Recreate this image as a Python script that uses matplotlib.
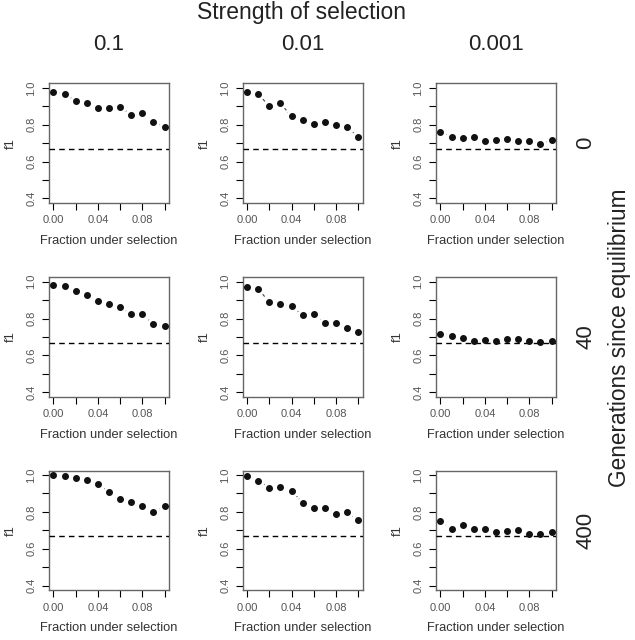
import numpy as np
import matplotlib
matplotlib.use('Agg')
import matplotlib.pyplot as plt

plt.rcParams['font.family'] = ['Liberation Sans', 'DejaVu Sans']

# Datos
frac = [0.00, 0.01, 0.02, 0.03, 0.04, 0.05, 0.06, 0.07, 0.08, 0.09, 0.10]
strengths = ['0.1', '0.01', '0.001']
generations = ['0', '40', '400']
f_equil = 0.67

# filas = generaciones (0, 40, 400); columnas = seleccion (0.1, 0.01, 0.001)
f1_g0_s1 = [0.980, 0.967, 0.929, 0.920, 0.893, 0.893, 0.895, 0.855, 0.864, 0.817, 0.787]
f1_g0_s2 = [0.978, 0.964, 0.902, 0.915, 0.845, 0.828, 0.803, 0.814, 0.799, 0.787, 0.732]
f1_g0_s3 = [0.761, 0.734, 0.727, 0.732, 0.714, 0.718, 0.720, 0.709, 0.711, 0.696, 0.716]
f1_g40_s1 = [0.982, 0.975, 0.948, 0.926, 0.895, 0.881, 0.863, 0.825, 0.825, 0.769, 0.760]
f1_g40_s2 = [0.971, 0.960, 0.890, 0.879, 0.868, 0.817, 0.826, 0.778, 0.778, 0.747, 0.725]
f1_g40_s3 = [0.716, 0.707, 0.694, 0.680, 0.684, 0.676, 0.691, 0.691, 0.676, 0.675, 0.680]
f1_g400_s1 = [1.000, 0.995, 0.984, 0.975, 0.951, 0.908, 0.868, 0.855, 0.834, 0.799, 0.830]
f1_g400_s2 = [0.995, 0.969, 0.930, 0.933, 0.915, 0.848, 0.819, 0.821, 0.789, 0.798, 0.754]
f1_g400_s3 = [0.749, 0.709, 0.729, 0.709, 0.705, 0.693, 0.694, 0.700, 0.680, 0.678, 0.689]

datos = [[f1_g0_s1, f1_g0_s2, f1_g0_s3],
         [f1_g40_s1, f1_g40_s2, f1_g40_s3],
         [f1_g400_s1, f1_g400_s2, f1_g400_s3]]

fig = plt.figure(figsize=(6.35, 6.4), dpi=100)

lefts = [0.0772, 0.3822, 0.6866]
bottoms = [0.683, 0.380, 0.0781]
w, h = 0.189, 0.1867
txtcol = '#555555'

for i in range(3):
    for j in range(3):
        ax = fig.add_axes([lefts[j], bottoms[i], w, h])
        y = datos[i][j]
        ax.plot(frac, y, linestyle=(0, (3, 2, 1, 2)), color='#444444', linewidth=0.8, zorder=1)
        ax.plot(frac, y, 'o', color='white', markersize=8, zorder=2)
        ax.axhline(f_equil, color='black', linestyle=(0, (4, 3)), linewidth=1.0, zorder=3)
        ax.plot(frac, y, 'o', color='#111111', markersize=4, zorder=4)
        ax.set_xlim(-0.004, 0.104)
        ax.set_ylim(0.376, 1.024)
        ax.set_xticks(np.arange(0, 0.101, 0.02))
        ax.set_xticklabels(['0.00', '', '0.04', '', '0.08', ''])
        ax.set_yticks(np.arange(0.4, 1.01, 0.1))
        ax.set_yticklabels(['0.4', '', '0.6', '', '0.8', '', '1.0'], rotation=90, va='center')
        ax.tick_params(length=5, width=0.8, labelsize=8, labelcolor=txtcol, pad=4)
        for s in ax.spines.values():
            s.set_color('#666666')
            s.set_linewidth(1.0)
        ax.set_xlabel('Fraction under selection', fontsize=9.3, color='#333333', labelpad=7)
        ax.set_ylabel('f1', fontsize=9.3, color='#333333', labelpad=7)
        if i == 0:
            fig.text(lefts[j] + w / 2, 0.931, strengths[j], fontsize=16, ha='center', va='center',
                     color='#222222')
        if j == 2:
            ax.text(1.25, 0.5, generations[i], transform=ax.transAxes, rotation=90,
                    fontsize=16, ha='center', va='center', color='#222222')

fig.text(0.475, 0.98, 'Strength of selection', fontsize=16.5, ha='center', va='center',
         color='#222222')
fig.text(0.976, 0.473, 'Generations since equilibrium', fontsize=16.3, rotation=90,
         ha='center', va='center', color='#222222')

fig.savefig('out.png', dpi=100)
